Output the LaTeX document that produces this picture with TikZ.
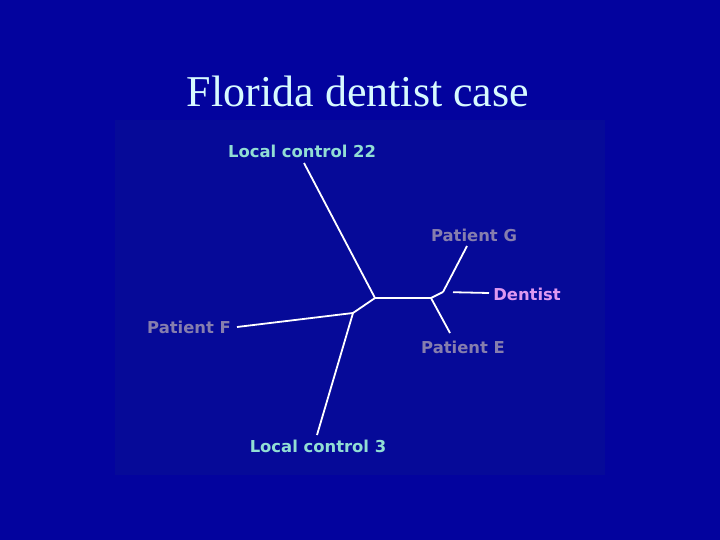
\documentclass[tikz,border=0pt]{standalone}
\usepackage{fontspec}
\setmainfont{Liberation Serif}
\newfontfamily\lblfont{DejaVu Sans}
\usepackage{tikz}
\usetikzlibrary{positioning}
\definecolor{slidebg}{RGB}{3,3,158}
\definecolor{panelbg}{RGB}{6,10,152}
\definecolor{titlecol}{RGB}{215,250,255}
\definecolor{ctrlcol}{RGB}{145,222,212}
\definecolor{patcol}{RGB}{134,126,174}
\definecolor{dentcol}{RGB}{222,152,240}

\begin{document}
\begin{tikzpicture}[
  x=1bp,y=-1bp,
  lbl/.style={inner sep=0pt,font=\lblfont\bfseries\fontsize{16.4bp}{19bp}\selectfont},
  branch/.style={draw=white,line width=1.8bp}
]
\fill[slidebg] (0,0) rectangle (720,540);
\useasboundingbox (0,0) rectangle (720,540);
\fill[panelbg] (115,120) rectangle (605,475);

\node[anchor=base,text=titlecol,font=\fontsize{44bp}{48bp}\selectfont] (title) at (358,107) {Florida dentist case};

% labels
\node[lbl,text=ctrlcol] (lc22) at (302,151) {Local control 22};
\node[lbl,text=patcol]  (pg)   at (474,235) {Patient G};
\node[lbl,text=dentcol] (dent) at (527,294) {Dentist};
\node[lbl,text=patcol]  (pf)   at (189,327) {Patient F};
\node[lbl,text=patcol]  (pe)   at (463,347) {Patient E};
\node[lbl,text=ctrlcol] (lc3)  at (318,446) {Local control 3};

% inner nodes and tips of the tree
\coordinate (na) at (375,298);
\coordinate (nb) at (431,298);
\coordinate (nc) at (443,292);
\coordinate (nd) at (353,313);
\coordinate (tlc22) at (304,163);
\coordinate (tpg)   at (467,246);
\coordinate (tdent) at (489,293);
\coordinate (tpe)   at (450,333);
\coordinate (tpf)   at (237,327);
\coordinate (tlc3)  at (317,435);

\draw[branch] (na) -- (nb);
\draw[branch] (na) -- (tlc22);
\draw[branch] (na) -- (nd);
\draw[branch] (nd) -- (tpf);
\draw[branch] (nd) -- (tlc3);
\draw[branch] (nb) -- (nc);
\draw[branch] (nb) -- (tpe);
\draw[branch] (nc) -- (tpg);
\draw[branch,shorten <=10bp] (nc) -- (tdent);
\end{tikzpicture}
\end{document}
